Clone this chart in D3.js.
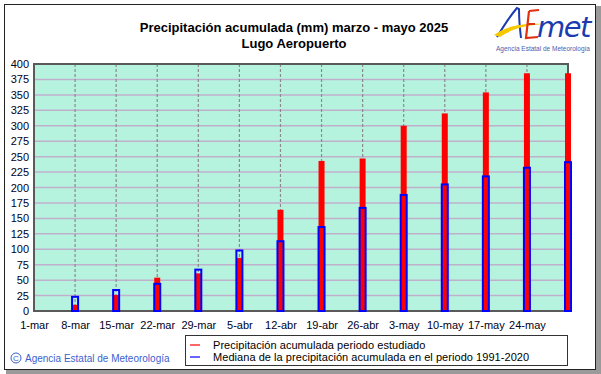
<!DOCTYPE html>
<html><head><meta charset="utf-8">
<script src="https://cdn.jsdelivr.net/npm/d3@7"></script>
<style>body{margin:0;background:#fff}svg{display:block;font-family:"Liberation Sans",Arial,sans-serif}</style>
</head><body>
<script>
const categories = ["1-mar","8-mar","15-mar","22-mar","29-mar","5-abr","12-abr","19-abr","26-abr","3-may","10-may","17-may","24-may","31-may"];
const tickLabels = ["1-mar","8-mar","15-mar","22-mar","29-mar","5-abr","12-abr","19-abr","26-abr","3-may","10-may","17-may","24-may"];
const observed = [0, 10, 26, 54, 61, 86, 164, 243, 247, 300, 320, 354, 385, 385];
const median   = [0, 23, 34, 44, 67, 98, 113, 136, 167, 188, 205, 218, 232, 241];
const yTicks = d3.range(0, 401, 25);
const titleLines = ["Precipitación acumulada (mm) marzo - mayo 2025", "Lugo Aeropuerto"];
const legendItems = [
  {label: "Precipitación acumulada periodo estudiado", color: "#ff0000"},
  {label: "Mediana de la precipitación acumulada en el periodo 1991-2020", color: "#0000ff"}
];

const W = 601, H = 374;
const svg = d3.select("body").append("svg").attr("width", W).attr("height", H);

// outer frame with shadow
svg.append("rect").attr("x", 6).attr("y", 6).attr("width", 595).attr("height", 368).attr("fill", "#9a9a9a");
svg.append("rect").attr("x", 4.5).attr("y", 4.5).attr("width", 591).attr("height", 365).attr("fill", "#fff").attr("stroke", "#222").attr("stroke-width", 1);

const x = d3.scalePoint().domain(categories).range([34, 568]);
const y = d3.scaleLinear().domain([0, 400]).range([311, 64]);

// plot background
svg.append("rect").attr("x", 34).attr("y", 64).attr("width", 534).attr("height", 247).attr("fill", "#b6f3df");

// horizontal grid
svg.append("g").selectAll("line").data(yTicks.filter(d => d > 0 && d < 400)).join("line")
  .attr("x1", 34).attr("x2", 568).attr("y1", d => y(d)).attr("y2", d => y(d))
  .attr("stroke", "#bfb0cc").attr("stroke-width", 1.5);

// vertical dashed grid
svg.append("g").selectAll("line").data(categories.slice(1, 13)).join("line")
  .attr("x1", d => x(d)).attr("x2", d => x(d)).attr("y1", 64).attr("y2", 311)
  .attr("stroke", "#8a8a8a").attr("stroke-width", 1.2).attr("stroke-dasharray", "3,2");

// plot frame
svg.append("rect").attr("x", 34).attr("y", 64).attr("width", 534).attr("height", 247)
  .attr("fill", "none").attr("stroke", "#5a5a5a").attr("stroke-width", 2);

// red bars (observed)
svg.append("g").selectAll("rect").data(categories.map((c, i) => ({c, v: observed[i]})).filter(d => d.v > 0)).join("rect")
  .attr("x", d => x(d.c) - 3).attr("width", 6)
  .attr("y", d => y(d.v)).attr("height", d => y(0) - y(d.v))
  .attr("fill", "#ff0000");

// blue outlined bars (median)
svg.append("g").selectAll("rect").data(categories.map((c, i) => ({c, v: median[i]})).filter(d => d.v > 0)).join("rect")
  .attr("x", d => x(d.c) - 3).attr("width", 6)
  .attr("y", d => y(d.v)).attr("height", d => y(0) - y(d.v))
  .attr("fill", "none").attr("stroke", "#0000ff").attr("stroke-width", 2);

// y axis labels
const yAxis = d3.axisLeft(y).tickValues(yTicks).tickSize(0).tickPadding(5);
const gy = svg.append("g").attr("transform", "translate(34,0)").call(yAxis);
gy.select(".domain").remove();
gy.selectAll("text").attr("font-size", 11).attr("fill", "#000020").attr("font-family", "Liberation Sans, Arial, sans-serif");

// x axis labels
const xAxis = d3.axisBottom(x).tickValues(tickLabels).tickSize(0).tickPadding(10);
const gx = svg.append("g").attr("transform", "translate(0,311)").call(xAxis);
gx.select(".domain").remove();
gx.selectAll("text").attr("font-size", 11).attr("fill", "#000020").attr("font-family", "Liberation Sans, Arial, sans-serif");

// title
svg.append("g").selectAll("text").data(titleLines).join("text")
  .attr("x", 294).attr("y", (d, i) => 32 + i * 16).attr("text-anchor", "middle")
  .attr("font-size", 13).attr("font-weight", "bold").attr("fill", "#000").text(d => d);

// legend
svg.append("rect").attr("x", 185.5).attr("y", 335.5).attr("width", 382).attr("height", 30)
  .attr("fill", "#fff").attr("stroke", "#333").attr("stroke-width", 1);
const lg = svg.append("g").selectAll("g").data(legendItems).join("g")
  .attr("transform", (d, i) => `translate(190,${345 + i * 12})`);
lg.append("line").attr("x1", 0).attr("x2", 10).attr("y1", 0).attr("y2", 0).attr("stroke", d => d.color).attr("stroke-width", 1.2);
lg.append("text").attr("x", 23).attr("y", 4).attr("font-size", 11).attr("fill", "#000").attr("letter-spacing", 0.05).text(d => d.label);

// footer copyright
svg.append("circle").attr("cx", 16).attr("cy", 358).attr("r", 5).attr("fill", "none").attr("stroke", "#3a5fcd").attr("stroke-width", 1);
svg.append("text").attr("x", 16).attr("y", 361).attr("text-anchor", "middle").attr("font-size", 8).attr("fill", "#3a5fcd").text("C");
svg.append("text").attr("x", 25).attr("y", 362).attr("font-size", 10).attr("fill", "#3a5fcd").text("Agencia Estatal de Meteorología");

// logo
const logo = svg.append("g");
logo.append("path").attr("d", "M497,37 C503,27 510,16 517,8 L519,9 C519,20 520,30 521,38")
  .attr("fill", "none").attr("stroke", "#1a3cb0").attr("stroke-width", 2);
logo.append("path").attr("d", "M494,35 C505,27 520,23 545,24 C525,25 512,29 500,37 Z")
  .attr("fill", "#f5c800");
logo.append("path").attr("d", "M529,11 L526,38 L538,37 M527,24 L535,24 M529,11 L539,10")
  .attr("fill", "none").attr("stroke", "#e03010").attr("stroke-width", 2.2);
logo.append("text").attr("x", 537).attr("y", 37).attr("font-size", 29).attr("font-style", "italic")
  .attr("fill", "#1a3cb0").attr("font-family", "DejaVu Sans, sans-serif").attr("letter-spacing", -1.5).text("met");
logo.append("text").attr("x", 543).attr("y", 51).attr("text-anchor", "middle").attr("font-size", 6.5)
  .attr("fill", "#4a60b0").text("Agencia Estatal de Meteorología");
</script>
</body></html>
